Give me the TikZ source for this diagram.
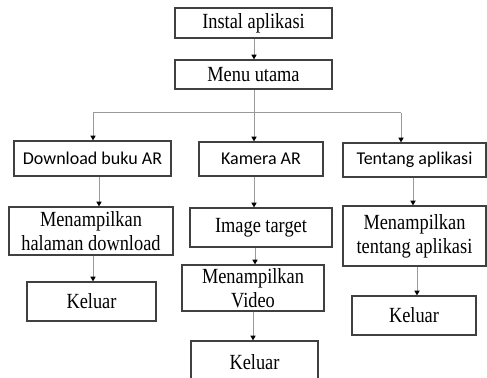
\documentclass[tikz,border=0pt]{standalone}
\usepackage{fontspec}
\setmainfont{Liberation Serif}
\newfontfamily\boxserif[FakeStretch=0.85]{Liberation Serif}
\newfontfamily\boxsans{Carlito}
\usetikzlibrary{arrows.meta}
\begin{document}
\begin{tikzpicture}[x=0.5pt,y=-0.5pt,
  box/.style={draw=black!75,line width=0.6pt,inner sep=0pt,align=center},
  sbox/.style={box,font=\boxserif\fontsize{10.8}{12}\selectfont},
  fbox/.style={box,font=\boxsans\fontsize{9}{11}\selectfont},
  conn/.style={draw=black!40,line width=0.5pt},
  arr/.style={conn,-{Triangle[width=2.6pt,length=2.4pt,color=black]}}]
\useasboundingbox (0,0) rectangle (487,378);

% top of the chart
\node[sbox,minimum width=157*0.5pt,minimum height=30*0.5pt] (inst) at (253.5,23) {Instal aplikasi};
\node[sbox,minimum width=157*0.5pt,minimum height=29*0.5pt] (menu) at (253.5,74.5) {Menu utama};

% left branch
\node[fbox,minimum width=157*0.5pt,minimum height=35*0.5pt] (dl) at (92.5,158.5) {Download buku AR};
\node[sbox,minimum width=164*0.5pt,minimum height=48*0.5pt] (mdl) at (91,231) {Menampilkan\\halaman download};
\node[sbox,minimum width=129*0.5pt,minimum height=39*0.5pt] (kl1) at (91.5,301.5) {Keluar};

% middle branch
\node[fbox,minimum width=124*0.5pt,minimum height=34*0.5pt] (kam) at (261,159) {Kamera AR};
\node[sbox,minimum width=142*0.5pt,minimum height=39*0.5pt] (img) at (261,227.5) {Image target};
\node[sbox,minimum width=142*0.5pt,minimum height=46*0.5pt] (vid) at (253,288) {Menampilkan\\Video};
\node[sbox,minimum width=127*0.5pt,minimum height=42*0.5pt] (kl2) at (254.5,362) {Keluar};

% right branch
\node[fbox,minimum width=143*0.5pt,minimum height=34*0.5pt] (ten) at (414.5,160) {Tentang aplikasi};
\node[sbox,minimum width=143*0.5pt,minimum height=60*0.5pt] (mten) at (414.5,236) {Menampilkan\\tentang aplikasi};
\node[sbox,minimum width=124*0.5pt,minimum height=39*0.5pt] (kl3) at (414,315.5) {Keluar};

% connector columns and the branching bar
\coordinate (bar) at (0,113);
\coordinate (cl) at (93,0);
\coordinate (cm) at (254,0);
\coordinate (cr) at (401,0);
\coordinate (c1) at (99,0);
\coordinate (c2) at (255,0);
\coordinate (c3) at (253,0);
\coordinate (c4) at (413,0);
\coordinate (c5) at (417,0);

\draw[arr] (inst.south -| cm) -- (menu.north -| cm);
\draw[conn] (menu.south -| cm) -- (bar -| cm);
\draw[conn] (bar -| cl) -- (bar -| cr);
\draw[arr] (bar -| cl) -- (dl.north -| cl);
\draw[arr] (bar -| cm) -- (kam.north -| cm);
\draw[arr] (bar -| cr) -- (ten.north -| cr);

\draw[arr] (dl.south -| c1) -- (mdl.north -| c1);
\draw[arr] (mdl.south -| cl) -- (kl1.north -| cl);

\draw[arr] (kam.south -| cm) -- (img.north -| cm);
\draw[arr] (img.south -| c2) -- (vid.north -| c2);
\draw[arr] (vid.south -| c3) -- (kl2.north -| c3);

\draw[arr] (ten.south -| c4) -- (mten.north -| c4);
\draw[arr] (mten.south -| c5) -- (kl3.north -| c5);
\end{tikzpicture}
\end{document}
